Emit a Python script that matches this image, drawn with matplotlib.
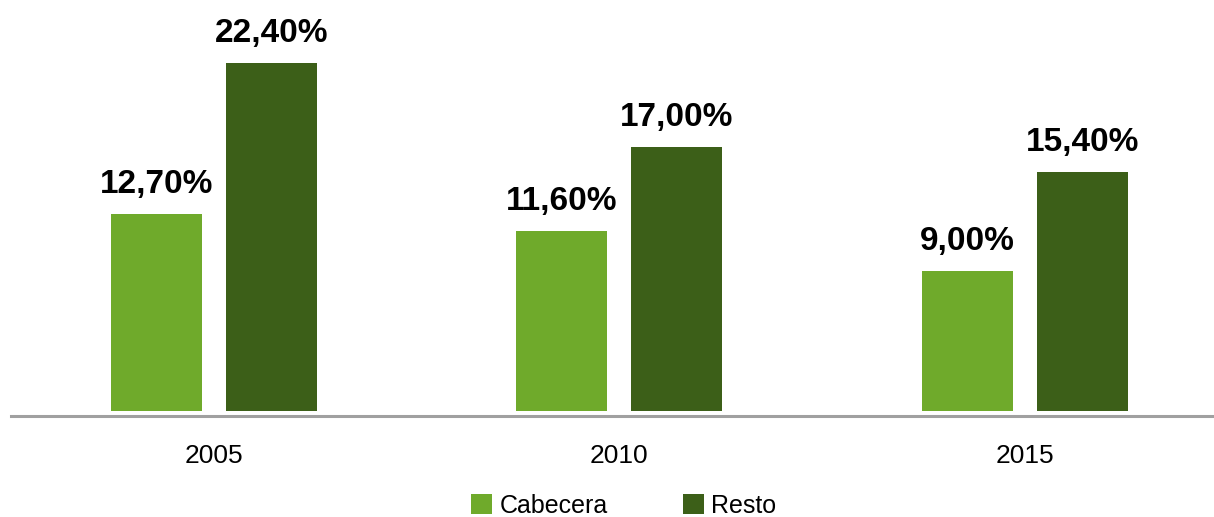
from matplotlib import pyplot as plt
import numpy as np

plt.rcParams['font.family'] = ['Liberation Sans', 'DejaVu Sans']

# Data
years = ['2005', '2010', '2015']
cabecera = [12.7, 11.6, 9.0]
resto = [22.4, 17.0, 15.4]
series_names = ['Cabecera', 'Resto']

light_green = '#6FAA2B'
dark_green = '#3C5F18'

fig = plt.figure(figsize=(12.14, 5.17), dpi=100)
ax = fig.add_axes([11 / 1214, 101 / 517, 1 - 11 / 1214, 1 - 101 / 517])

x = np.arange(len(years))
width = 0.2244
offset = 0.1418

bars1 = ax.bar(x - offset, cabecera, width, color=light_green, label=series_names[0])
bars2 = ax.bar(x + offset, resto, width, color=dark_green, label=series_names[1])

# value labels above each bar
for bars, vals in [(bars1, cabecera), (bars2, resto)]:
    for b, v in zip(bars, vals):
        txt = '{:.2f}%'.format(v).replace('.', ',')
        ax.annotate(txt, (b.get_x() + b.get_width() / 2, b.get_height()),
                    xytext=(0, 15), textcoords='offset points',
                    ha='center', va='baseline', fontsize=24, fontweight='bold')

# Format plot
ax.set_xlim(-0.5, 2.467)
ax.set_ylim(-0.32, 26.45)
for s in ['top', 'right', 'left']:
    ax.spines[s].set_visible(False)
ax.spines['bottom'].set_color('#A0A0A0')
ax.spines['bottom'].set_linewidth(2.2)
ax.set_yticks([])
ax.set_xticks(x)
ax.set_xticklabels(years, fontsize=19)
ax.tick_params(axis='x', length=0, pad=20)

fig.legend(loc='center', bbox_to_anchor=(623.5 / 1214, 11 / 517), ncol=2,
           frameon=False, fontsize=18, handlelength=0.84, handleheight=0.84,
           handletextpad=0.3, columnspacing=3.0)

plt.savefig('out.png', dpi=100)
